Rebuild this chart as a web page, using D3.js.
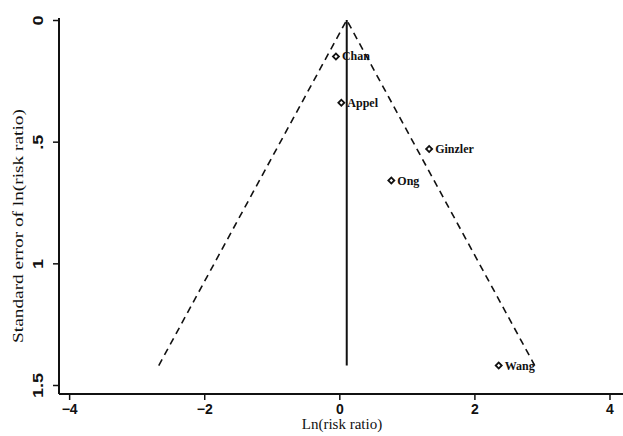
<!DOCTYPE html>
<html><head><meta charset="utf-8">
<script src="https://cdn.jsdelivr.net/npm/d3@7/dist/d3.min.js"></script>
<style>body{margin:0;background:#fff}svg{display:block}text{font-family:"Liberation Serif","DejaVu Serif",serif;fill:#111}</style>
</head><body><svg id="c" width="623" height="436"></svg>
<script>
const studies = ["Chan","Appel","Ginzler","Ong","Wang"];
const lnRR = [-0.05, 0.03, 1.33, 0.77, 2.36];
const seLnRR = [0.15, 0.34, 0.53, 0.66, 1.42];
const pooled = 0.11;
const xTicks = [-4,-2,0,2,4];
const yTicks = [0,0.5,1,1.5];
const yTickLabels = ["0",".5","1","1.5"];

const svg = d3.select("#c");
const x = d3.scaleLinear().domain([-4.15, 4.2]).range([59, 623]);
const y = d3.scaleLinear().domain([0, 1.537]).range([20, 394]);
const maxSE = d3.max(seLnRR);

// x axis
const xa = svg.append("g").attr("transform","translate(0,394)")
  .call(d3.axisBottom(x).tickValues(xTicks).tickFormat(d3.format("d")).tickSize(6).tickPadding(4));
xa.select(".domain").attr("stroke","#111").attr("stroke-width",2).attr("d","M59,0H623");
xa.selectAll(".tick line").attr("stroke","#111").attr("stroke-width",1.5);
xa.selectAll(".tick text").attr("font-size",14).style("font-family","Liberation Sans, Arial, sans-serif").style("font-weight","bold").attr("fill","#222");

// y axis
const ya = svg.append("g").attr("transform","translate(59,0)")
  .call(d3.axisLeft(y).tickValues(yTicks).tickFormat((d,i)=>yTickLabels[i]).tickSize(6).tickPadding(4));
ya.select(".domain").attr("stroke","#111").attr("stroke-width",2).attr("d","M0,18V394");
ya.selectAll(".tick line").attr("stroke","#111").attr("stroke-width",1.5);
ya.selectAll(".tick text").attr("font-size",14).style("font-family","Liberation Sans, Arial, sans-serif").style("font-weight","bold").attr("fill","#222")
  .attr("text-anchor","middle").attr("x",0).attr("y",-16).attr("dy","0")
  .attr("transform","rotate(-90) scale(1.3,1)");

// titles
svg.append("text").attr("x",342).attr("y",429).attr("text-anchor","middle").attr("font-size",15).style("font-family","Liberation Serif, serif").text("Ln(risk ratio)");
svg.append("text").attr("transform","translate(23,226) rotate(-90) scale(1.38,1)").attr("text-anchor","middle").attr("font-size",14).text("Standard error of ln(risk ratio)");

// funnel
const line = d3.line().x(d=>x(d[0])).y(d=>y(d[1]));
svg.append("path").attr("d", line([[pooled-1.96*maxSE, maxSE],[pooled,0],[pooled+1.96*maxSE, maxSE]]))
  .attr("fill","none").attr("stroke","#111").attr("stroke-width",1.6).attr("stroke-dasharray","7,5");
svg.append("path").attr("d", line([[pooled,0],[pooled,maxSE]]))
  .attr("fill","none").attr("stroke","#111").attr("stroke-width",2);

// points
const sym = d3.symbol().type(d3.symbolSquare).size(18);
const g = svg.append("g");
studies.forEach((s,i)=>{
  g.append("path").attr("d",sym()).attr("transform",`translate(${x(lnRR[i])},${y(seLnRR[i])}) rotate(45)`)
    .attr("fill","#fff").attr("stroke","#111").attr("stroke-width",1.8);
  g.append("text").attr("x",x(lnRR[i])+6).attr("y",y(seLnRR[i])+4).attr("font-size",12).style("font-weight","bold").text(s);
});
</script></body></html>
